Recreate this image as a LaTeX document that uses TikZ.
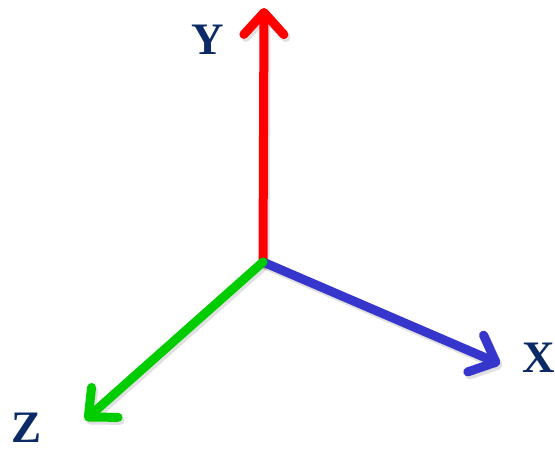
\documentclass[tikz,border=0pt]{standalone}
\usepackage{fontspec}
\setmainfont{Liberation Serif}
\usepackage{xcolor}
\usepackage{tikz}
\usetikzlibrary{positioning, arrows.meta, calc}

\definecolor{axisred}{HTML}{FF0000}
\definecolor{axisblue}{HTML}{3636CC}
\definecolor{axisgreen}{HTML}{00CC00}
\definecolor{labelnavy}{HTML}{0B2A66}

\tikzset{
    axis/.style={line width=9pt, line cap=round,
        -{Straight Barb[length=22pt, width=40pt, round]}},
    axisshadow/.style={axis, draw=black, opacity=0.12, transform canvas={shift={(2pt,-3pt)}}},
    axislabel/.style={text=labelnavy, font=\fontsize{45}{45}\selectfont\bfseries, inner sep=0pt}
}

\begin{document}
\begin{tikzpicture}[x=1pt, y=-1pt]
        \useasboundingbox (0, 0) rectangle (555, 453);

        \coordinate (o)  at (263, 262);
        \coordinate (ty) at (264, 8);
        \coordinate (tx) at (500, 364);
        \coordinate (tz) at (85, 420);

        \node[axislabel] (ly) at (208, 40)  {Y};
        \node[axislabel] (lx) at (539, 358) {X};
        \node[axislabel] (lz) at (27, 428)  {Z};

        % shadows
        \draw[axisshadow] (o) -- (ty);
        \draw[axisshadow] (o) -- (tx);
        \draw[axisshadow] (o) -- (tz);

        % axes
        \draw[axis, axisred]   (o) -- (ty);
        \draw[axis, axisblue]  (o) -- (tx);
        \draw[axis, axisgreen] (o) -- (tz);
    \end{tikzpicture}
\end{document}
